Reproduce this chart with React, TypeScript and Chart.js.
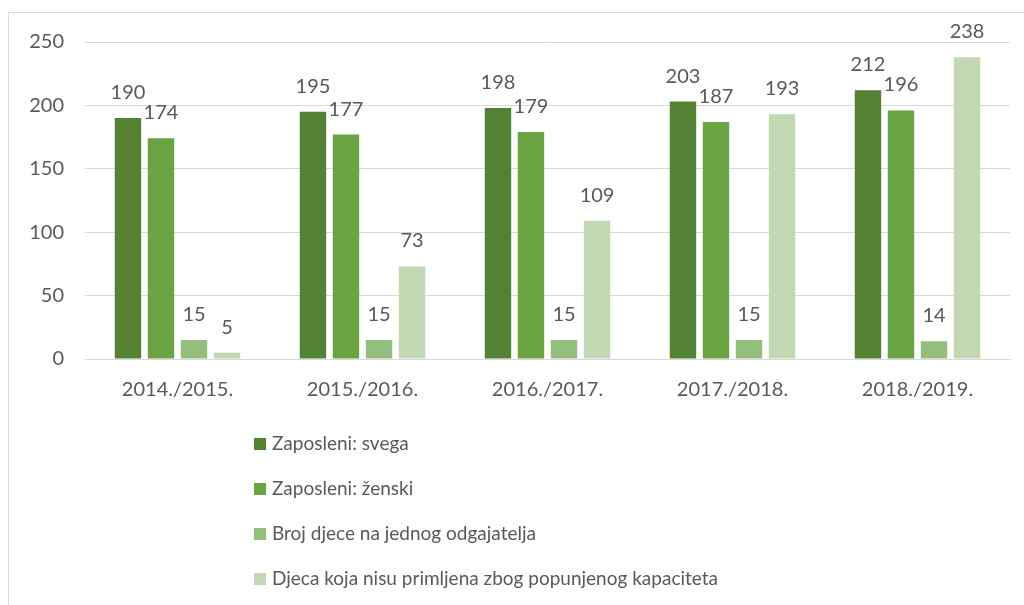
import React, { useEffect, useRef } from "react";
import { Chart, registerables } from "chart.js";

Chart.register(...registerables);

const categories = ["2014./2015.", "2015./2016.", "2016./2017.", "2017./2018.", "2018./2019."];
const seriesNames = [
  "Zaposleni: svega",
  "Zaposleni: ženski",
  "Broj djece na jednog odgajatelja",
  "Djeca koja nisu primljena zbog popunjenog kapaciteta",
];
const zaposleniSvega = [190, 195, 198, 203, 212];
const zaposleniZenski = [174, 177, 179, 187, 196];
const brojDjece = [15, 15, 15, 15, 14];
const djecaNisuPrimljena = [5, 73, 109, 193, 238];
const colors = ["#548235", "#6AA342", "#93BE7C", "#C1D9B2"];
const yTicks = [0, 50, 100, 150, 200, 250];

const FONT = "Lato, 'Open Sans', sans-serif";
const TEXT = "#595959";

const dataLabels = {
  id: "dataLabels",
  afterDatasetsDraw(chart: any) {
    const ctx = chart.ctx;
    ctx.save();
    ctx.font = `20px ${FONT}`;
    ctx.fillStyle = TEXT;
    ctx.textAlign = "center";
    ctx.textBaseline = "alphabetic";
    chart.data.datasets.forEach((ds: any, i: number) => {
      const meta = chart.getDatasetMeta(i);
      meta.data.forEach((el: any, j: number) => {
        ctx.fillText(String(ds.data[j]), el.x, el.y - 19);
      });
    });
    ctx.restore();
  },
};

const vertLegend = {
  id: "vertLegend",
  afterDraw(chart: any) {
    const ctx = chart.ctx;
    ctx.save();
    ctx.font = `19px ${FONT}`;
    ctx.textBaseline = "middle";
    ctx.textAlign = "left";
    const startY = 431;
    const step = 45;
    chart.data.datasets.forEach((ds: any, i: number) => {
      const cy = startY + i * step;
      ctx.fillStyle = ds.backgroundColor;
      ctx.fillRect(245, cy - 6, 12, 12);
      ctx.fillStyle = TEXT;
      ctx.fillText(ds.label, 263, cy);
    });
    ctx.restore();
  },
};

export default function App() {
  const ref = useRef<HTMLCanvasElement | null>(null);
  useEffect(() => {
    if (!ref.current) return;
    const series = [zaposleniSvega, zaposleniZenski, brojDjece, djecaNisuPrimljena];
    const chart = new Chart(ref.current, {
      type: "bar",
      data: {
        labels: categories,
        datasets: series.map((d, i) => ({
          label: seriesNames[i],
          data: d,
          backgroundColor: colors[i],
          categoryPercentage: 0.714,
          barPercentage: 0.8,
        })),
      },
      options: {
        animation: false,
        responsive: false,
        maintainAspectRatio: false,
        layout: { padding: { top: 29, right: 14, bottom: 196, left: 0 } },
        plugins: {
          legend: { display: false },
          tooltip: { enabled: false },
        },
        scales: {
          x: {
            grid: { display: false, drawTicks: false },
            border: { display: true, color: "#D9D9D9" },
            ticks: { color: TEXT, font: { family: FONT, size: 20 }, padding: 19 },
            afterFit: (s: any) => {
              s.height = 50;
            },
          },
          y: {
            min: 0,
            max: 250,
            afterBuildTicks: (s: any) => {
              s.ticks = yTicks.map((v) => ({ value: v }));
            },
            grid: { color: "#D9D9D9", drawTicks: false },
            border: { display: false },
            ticks: { color: TEXT, font: { family: FONT, size: 20 }, padding: 21 },
            afterFit: (s: any) => {
              s.width = 76;
              s.paddingTop = 0;
              s.paddingBottom = 0;
            },
          },
        },
      },
      plugins: [dataLabels, vertLegend],
    });
    return () => chart.destroy();
  }, []);

  return (
    <div
      style={{
        position: "absolute",
        left: 8,
        top: 12,
        width: 1016,
        height: 593,
        borderLeft: "1px solid #D9D9D9",
        borderTop: "1px solid #D9D9D9",
        boxSizing: "border-box",
        background: "#fff",
      }}
    >
      <canvas ref={ref} width={1015} height={592} style={{ display: "block" }} />
    </div>
  );
}
